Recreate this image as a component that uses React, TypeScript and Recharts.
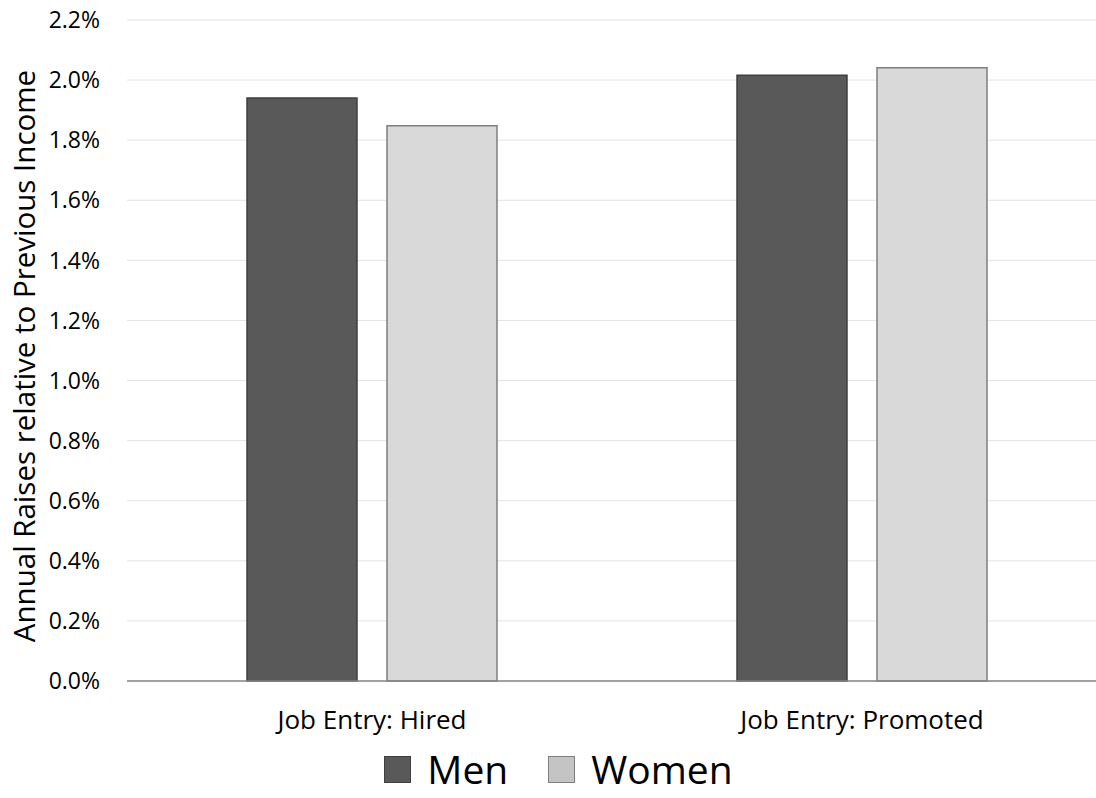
import { BarChart, Bar, XAxis, YAxis, CartesianGrid, Legend } from 'recharts';

const categories = ['Job Entry: Hired', 'Job Entry: Promoted'];
const menValues = [1.94, 2.016];
const womenValues = [1.848, 2.041];
const yTicks = [0, 0.2, 0.4, 0.6, 0.8, 1.0, 1.2, 1.4, 1.6, 1.8, 2.0, 2.2];

const data = categories.map((name, i) => ({ name, men: menValues[i], women: womenValues[i] }));

const FONT = '"Open Sans", sans-serif';

const legendItems = [
  { label: 'Men', fill: '#595959', stroke: '#3f3f3f' },
  { label: 'Women', fill: '#c4c4c4', stroke: '#7f7f7f' },
];

function renderLegend() {
  return (
    <div style={{ display: 'flex', justifyContent: 'center', alignItems: 'center', width: 1096, paddingLeft: 21, paddingTop: 8, boxSizing: 'border-box', fontFamily: FONT, fontSize: 39, color: '#000', lineHeight: '40px' }}>
      {legendItems.map((it, i) => (
        <div key={it.label} style={{ display: 'flex', alignItems: 'center', marginLeft: i === 0 ? 0 : 40 }}>
          <span style={{ display: 'inline-block', width: 25, height: 25, background: it.fill, border: `1px solid ${it.stroke}`, marginRight: 16 }} />
          <span>{it.label}</span>
        </div>
      ))}
    </div>
  );
}

export default function App() {
  return (
    <div style={{ position: 'absolute', left: 0, top: 0, width: 1096, height: 798, overflow: 'hidden', background: '#fff' }}>
      <BarChart
        width={1110}
        height={798}
        data={data}
        margin={{ top: 20, right: 3, bottom: 0, left: 0 }}
        barSize={110}
        barGap={30}
      >
        <CartesianGrid vertical={false} stroke="#e3e3e3" strokeWidth={1} />
        <XAxis
          dataKey="name"
          height={60}
          axisLine={{ stroke: '#868686', strokeWidth: 1.5 }}
          tickLine={false}
          tickSize={0}
          tickMargin={30}
          tick={{ fill: '#000', fontSize: 26, fontFamily: FONT }}
        />
        <YAxis
          width={127}
          domain={[0, 2.2]}
          ticks={yTicks}
          interval={0}
          axisLine={false}
          tickLine={false}
          tickSize={0}
          tickMargin={27}
          tickFormatter={(v: number) => `${v.toFixed(1)}%`}
          tick={{ fill: '#000', fontSize: 23, fontFamily: FONT }}
          label={{
            content: () => (
              <text
                x={35}
                y={356}
                transform="rotate(-90 35 356)"
                textAnchor="middle"
                fill="#000"
                fontSize={29.5}
                fontFamily={FONT}
              >
                Annual Raises relative to Previous Income
              </text>
            ),
          }}
        />
        <Legend verticalAlign="bottom" height={57} content={renderLegend} wrapperStyle={{ left: 0, width: 1096 }} />
        <Bar dataKey="men" name="Men" fill="#595959" stroke="#3f3f3f" strokeWidth={1.5} isAnimationActive={false} />
        <Bar dataKey="women" name="Women" fill="#d9d9d9" stroke="#7f7f7f" strokeWidth={1.5} isAnimationActive={false} />
      </BarChart>
    </div>
  );
}
